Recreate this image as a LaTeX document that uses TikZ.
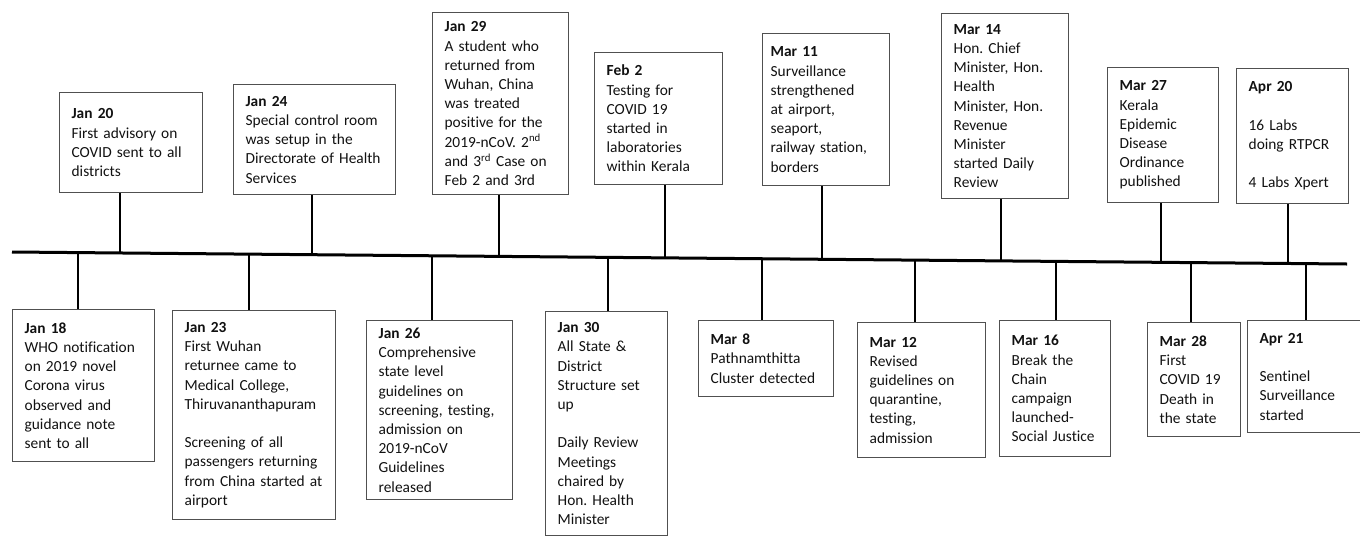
\documentclass[tikz,border=0pt]{standalone}
\usepackage{fontspec}
\setmainfont{Carlito}[Ligatures=NoCommon]
\usepackage{xcolor}
\usetikzlibrary{calc}
\frenchspacing
\definecolor{ink}{HTML}{111111}
\definecolor{frame}{HTML}{505050}
\tikzset{ev/.style={draw=frame,line width=1.3pt,anchor=north west,align=left,text=ink,inner xsep=12pt,inner ysep=4pt,font=\fontsize{15.4}{19.2}\selectfont},tline/.style={line width=3pt,draw=black},riser/.style={line width=2.6pt,draw=black}}
\begin{document}
\begin{tikzpicture}[x=1pt,y=-1pt]
\useasboundingbox (0,0) rectangle (1360,536);
\coordinate (tl-a) at (12,252);\coordinate (tl-b) at (1347,264);
\draw[tline] (tl-a)--(tl-b);
\node[ev,text width=119pt,minimum height=100pt] (jan20) at (59,92) {\textbf{Jan 20}\\First advisory on\\COVID sent to all\\districts};
\node[ev,text width=138pt,minimum height=110pt] (jan24) at (233,84) {\textbf{Jan 24}\\Special control room\\was setup in the\\Directorate of Health\\Services};
\node[ev,text width=112pt,minimum height=182pt] (jan29) at (432,12) {\textbf{Jan 29}\\A student who\\returned from\\Wuhan, China\\was treated\\positive for the\\2019-nCoV. 2\textsuperscript{nd}\\and 3\textsuperscript{rd} Case on\\Feb 2 and 3rd};
\node[ev,text width=104pt,minimum height=132pt] (feb2) at (594,52) {\textbf{Feb 2}\\Testing for\\COVID 19\\started in\\laboratories\\within Kerala};
\node[ev,inner xsep=8pt,text width=111pt,minimum height=152pt] (mar11) at (762,33) {\textbf{Mar 11}\\Surveillance\\strengthened\\at airport,\\seaport,\\railway station,\\borders};
\node[ev,text width=103pt,minimum height=185pt] (mar14) at (941,13) {\textbf{Mar 14}\\Hon. Chief\\Minister, Hon.\\Health\\Minister, Hon.\\Revenue\\Minister\\started Daily\\Review};
\node[ev,text width=87pt,minimum height=135pt] (mar27) at (1107,67) {\textbf{Mar 27}\\Kerala\\Epidemic\\Disease\\Ordinance\\published};
\node[ev,text width=88pt,minimum height=135pt] (apr20) at (1236,68) {\textbf{Apr 20}\\[19.2pt]16 Labs\\doing RTPCR\\[19.2pt]4 Labs Xpert};
\node[ev,text width=118pt,minimum height=152pt] (jan18) at (12,309) {\textbf{Jan 18}\\WHO notification\\on 2019 novel\\Corona virus\\observed and\\guidance note\\sent to all};
\node[ev,text width=139pt,minimum height=209pt] (jan23) at (172,310) {\textbf{Jan 23}\\First Wuhan\\returnee came to\\Medical College,\\Thiruvananthapuram\\[19.2pt]Screening of all\\passengers returning\\from China started at\\airport};
\node[ev,text width=122pt,minimum height=179pt] (jan26) at (366,320) {\textbf{Jan 26}\\Comprehensive\\state level\\guidelines on\\screening, testing,\\admission on\\2019-nCoV\\Guidelines\\released};
\node[ev,text width=98pt,minimum height=224pt] (jan30) at (545,311) {\textbf{Jan 30}\\All State \&\\District\\Structure set\\up\\[19.2pt]Daily Review\\Meetings\\chaired by\\Hon. Health\\Minister};
\node[ev,text width=111pt,minimum height=76pt] (mar8) at (698,320) {\textbf{Mar 8}\\Pathnamthitta\\Cluster detected};
\node[ev,text width=104pt,minimum height=135pt] (mar12) at (857,322) {\textbf{Mar 12}\\Revised\\guidelines on\\quarantine,\\testing,\\admission};
\node[ev,text width=87pt,minimum height=136pt] (mar16) at (999,320) {\textbf{Mar 16}\\Break the\\Chain\\campaign\\launched-\\Social Justice};
\node[ev,text width=69pt,minimum height=114pt] (mar28) at (1147,322) {\textbf{Mar 28}\\First\\COVID 19\\Death in\\the state};
\node[ev,text width=91pt,minimum height=112pt] (apr21) at (1247,320) {\textbf{Apr 21}\\[19.2pt]Sentinel\\Surveillance\\started};
\foreach \n/\sx/\sy in {jan20/120/253.0,jan24/312/254.7,jan29/499/256.4,feb2/665/257.9,mar11/822/259.3,mar14/1001/260.9,mar27/1161/262.3,apr20/1288/263.5}{
\coordinate (s-\n) at (\sx,\sy);
\draw[riser] (s-\n)--(s-\n |- \n.south);}
\foreach \n/\sx/\sy in {jan18/78/252.6,jan23/249/254.1,jan26/432/255.8,jan30/608/257.4,mar8/762/258.8,mar12/915/260.1,mar16/1056/261.4,mar28/1191/262.6,apr21/1306/263.6}{
\coordinate (s-\n) at (\sx,\sy);
\draw[riser] (s-\n)--(s-\n |- \n.north);}
\end{tikzpicture}
\end{document}
